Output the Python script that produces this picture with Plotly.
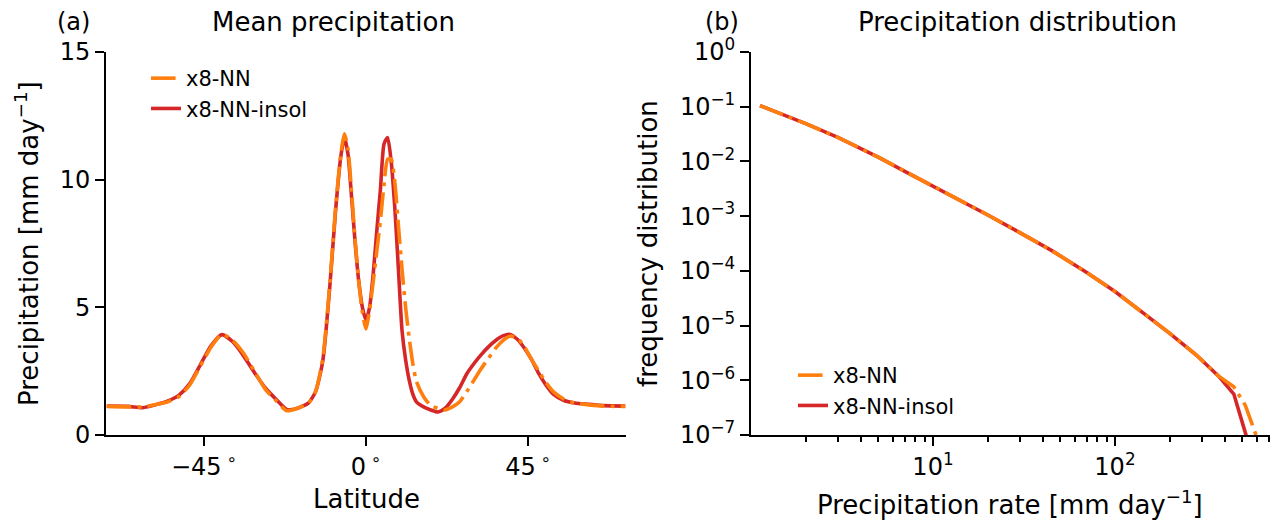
import plotly.graph_objects as go

# ---------------- data: panel (a) mean precipitation ----------------
latitude = [-72, -66, -62, -58, -55, -52, -49, -46, -43, -40, -37, -34, -31, -28, -25, -22, -19, -16,
            -14, -12, -10, -8.5, -7, -6, -5, -4, -3, -2, -1, 0, 1, 2, 3, 4, 5, 6, 7, 8, 9, 10, 11, 12,
            13, 14, 16, 18, 20, 22, 24, 26, 28, 30, 32, 34, 36, 38, 40, 42, 44, 46, 48, 50, 52, 55,
            58, 62, 66, 72]
precip_nn = [1.12, 1.10, 1.10, 1.20, 1.30, 1.50, 1.95, 2.70, 3.45, 3.95, 3.70, 3.20, 2.50, 1.80, 1.35,
             0.95, 1.05, 1.25, 1.70, 3.00, 6.00, 8.80, 11.0, 11.8, 11.2, 9.50, 7.60, 6.00, 4.80, 4.15,
             4.90, 6.00, 7.20, 8.40, 9.80, 10.8, 10.8, 9.90, 8.20, 6.50, 5.00, 3.80, 2.80, 2.10, 1.50,
             1.15, 1.05, 0.98, 1.10, 1.30, 1.70, 2.15, 2.60, 3.00, 3.40, 3.70, 3.87, 3.80, 3.45, 2.95,
             2.50, 2.05, 1.70, 1.40, 1.25, 1.18, 1.13, 1.12]
precip_insol = [1.13, 1.12, 1.07, 1.20, 1.33, 1.55, 2.00, 2.75, 3.50, 3.93, 3.65, 3.10, 2.45, 1.85, 1.40,
                1.00, 1.05, 1.25, 1.70, 2.90, 5.90, 8.70, 10.9, 11.65, 11.0, 9.30, 7.50, 6.00, 5.00, 4.50,
                5.00, 6.30, 8.00, 9.60, 11.4, 11.65, 10.7, 8.90, 6.50, 4.10, 2.95, 2.15, 1.60, 1.30, 1.10,
                0.98, 0.90, 1.05, 1.40, 1.85, 2.40, 2.80, 3.15, 3.45, 3.70, 3.88, 3.94, 3.75, 3.40, 2.95,
                2.40, 1.95, 1.60, 1.35, 1.25, 1.20, 1.15, 1.13]

# ---------------- data: panel (b) precipitation distribution ----------------
rate_nn = [1.12, 1.5, 2, 3, 5, 7, 10, 15, 20, 30, 45, 70, 100, 150, 200, 280, 370, 450, 520, 596, 620]
freq_nn = [0.105, 0.0724, 0.049, 0.0275, 0.012, 0.0066, 0.00355, 0.00174, 0.00105, 5.0e-4, 2.34e-4,
           9.3e-5, 4.2e-5, 1.5e-5, 7.2e-6, 2.9e-6, 1.2e-6, 7.6e-7, 3.5e-7, 1.0e-7, 5e-8]
rate_insol = [1.12, 1.5, 2, 3, 5, 7, 10, 15, 20, 30, 45, 70, 100, 150, 200, 280, 370, 450, 525, 545]
freq_insol = [0.105, 0.0724, 0.049, 0.0275, 0.012, 0.0066, 0.00355, 0.00174, 0.00105, 5.0e-4, 2.34e-4,
              9.3e-5, 4.2e-5, 1.5e-5, 7.2e-6, 2.9e-6, 1.2e-6, 5.6e-7, 1.0e-7, 5e-8]

lat_ticks = [-45, 0, 45]
lat_ticktext = ["−45\u2009<sup>∘</sup>", "0\u2009<sup>∘</sup>", "45\u2009<sup>∘</sup>"]
p_ticks = [0, 5, 10, 15]
rate_ticks = [10, 100]
rate_ticktext = ["10<sup>1</sup>", "10<sup>2</sup>"]
rate_minor = [2, 3, 4, 5, 6, 7, 8, 9, 20, 30, 40, 50, 60, 70, 80, 90, 200, 300, 400, 500, 600, 700]
freq_ticks = [1, 1e-1, 1e-2, 1e-3, 1e-4, 1e-5, 1e-6, 1e-7]
freq_ticktext = ["10<sup>0</sup>", "10<sup>−1</sup>", "10<sup>−2</sup>", "10<sup>−3</sup>",
                 "10<sup>−4</sup>", "10<sup>−5</sup>", "10<sup>−6</sup>", "10<sup>−7</sup>"]

ORANGE = "#ff7f0e"
RED = "#d62728"
FONT = "DejaVu Sans"
DASHDOT = "24.6px,6.2px,3.9px,6.2px"
LW = 3.6

fig = go.Figure()

# panel (a)
fig.add_trace(go.Scatter(x=latitude, y=precip_insol, mode="lines", name="x8-NN-insol",
                         line=dict(color=RED, width=LW, shape="spline", smoothing=0.6),
                         xaxis="x", yaxis="y", legend="legend", legendrank=2))
fig.add_trace(go.Scatter(x=latitude, y=precip_nn, mode="lines", name="x8-NN",
                         line=dict(color=ORANGE, width=LW, dash=DASHDOT, shape="spline", smoothing=0.6),
                         xaxis="x", yaxis="y", legend="legend", legendrank=1))
# panel (b)
fig.add_trace(go.Scatter(x=rate_insol, y=freq_insol, mode="lines", name="x8-NN-insol",
                         line=dict(color=RED, width=LW), xaxis="x2", yaxis="y2",
                         legend="legend2", legendrank=2))
fig.add_trace(go.Scatter(x=rate_nn, y=freq_nn, mode="lines", name="x8-NN",
                         line=dict(color=ORANGE, width=LW, dash=DASHDOT), xaxis="x2", yaxis="y2",
                         legend="legend2", legendrank=1))

axis_common = dict(showline=True, linecolor="black", linewidth=2, mirror=False,
                   ticks="outside", ticklen=9, tickwidth=2, tickcolor="black",
                   showgrid=False, zeroline=False,
                   tickfont=dict(family=FONT, size=24, color="black"))

# page coordinates of the plotting area (body has an 8px margin)
OFF = 8
PL, PR, PT, PB = 106, 1270, 52, 435
W, H = 1281 - 2 * OFF, 529 - 2 * OFF
pw = PR - PL
ph = PB - PT

def px(x):
    return (x - PL) / pw

def py(y):
    return (PB - y) / ph

fig.update_layout(
    width=W, height=H,
    margin=dict(l=PL - OFF, r=W - (PR - OFF), t=PT - OFF, b=H - (PB - OFF)),
    paper_bgcolor="white", plot_bgcolor="white",
    font=dict(family=FONT, color="black"),
    xaxis=dict(domain=[0, px(626)], range=[-72.2, 72.2], tickvals=lat_ticks,
               ticktext=lat_ticktext, anchor="y", **axis_common),
    yaxis=dict(domain=[0, 1], range=[0, 15], tickvals=p_ticks, anchor="x", **axis_common),
    xaxis2=dict(domain=[px(751), 1], type="log", range=[0, 2.852], tickvals=rate_ticks,
                ticktext=rate_ticktext, anchor="y2",
                minor=dict(tickvals=rate_minor, ticks="outside", ticklen=5, tickwidth=1.6,
                           tickcolor="black", showgrid=False),
                **axis_common),
    yaxis2=dict(domain=[0, 1], type="log", range=[-7, 0], tickvals=freq_ticks,
                ticktext=freq_ticktext, anchor="x2", **axis_common),
    legend=dict(x=px(146), y=py(58), xanchor="left", yanchor="top",
                bgcolor="rgba(0,0,0,0)", font=dict(family=FONT, size=21),
                traceorder="normal"),
    legend2=dict(x=px(793), y=py(355), xanchor="left", yanchor="top",
                 bgcolor="rgba(0,0,0,0)", font=dict(family=FONT, size=21),
                 traceorder="normal"),
)

annotations = [
    dict(text="(a)", x=56, y=22, xanchor="left", yanchor="middle", size=24),
    dict(text="Mean precipitation", x=333, y=22, xanchor="center", yanchor="middle", size=26),
    dict(text="(b)", x=704, y=22, xanchor="left", yanchor="middle", size=24),
    dict(text="Precipitation distribution", x=1017, y=22, xanchor="center", yanchor="middle",
         size=26),
    dict(text="Latitude", x=366, y=499, xanchor="center", yanchor="middle", size=26),
    dict(text="Precipitation rate [mm day<sup>−1</sup>]", x=1010, y=503, xanchor="center",
         yanchor="middle", size=26),
    dict(text="Precipitation [mm day<sup>−1</sup>]", x=27, y=244, xanchor="center",
         yanchor="middle", textangle=-90, size=26),
    dict(text="frequency distribution", x=648, y=244, xanchor="center", yanchor="middle",
         textangle=-90, size=26),
]
for a in annotations:
    fig.add_annotation(text=a["text"], x=px(a["x"]), y=py(a["y"]), xref="paper", yref="paper",
                       xanchor=a["xanchor"], yanchor=a["yanchor"], showarrow=False,
                       borderpad=0, textangle=a.get("textangle", 0),
                       font=dict(family=FONT, size=a["size"], color="black"))

fig.write_html("out.html")
